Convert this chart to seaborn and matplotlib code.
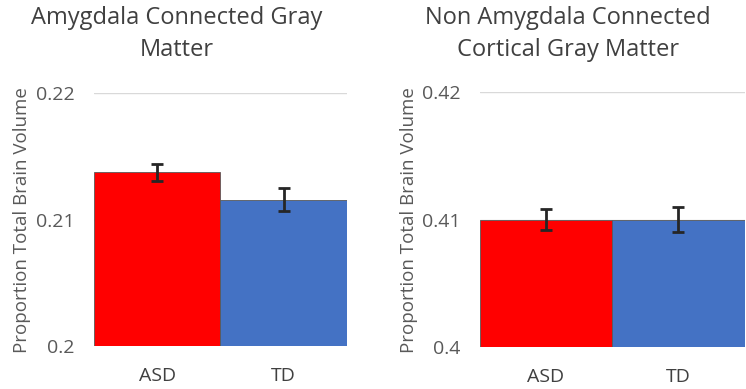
import matplotlib
matplotlib.use("Agg")
import matplotlib.pyplot as plt
import seaborn as sns
import pandas as pd

groups = ["ASD", "TD"]
amyg_means = [0.21375, 0.2116]
amyg_err = [0.0007, 0.0009]
non_amyg_means = [0.4100, 0.4100]
non_amyg_err = [0.0008, 0.0010]

panel_titles = ["Amygdala Connected Gray\nMatter", "Non Amygdala Connected\nCortical Gray Matter"]
y_limits = [(0.2, 0.22), (0.4, 0.42)]
y_ticks = [[0.2, 0.21, 0.22], [0.4, 0.41, 0.42]]
y_ticklabels = [["0.2", "0.21", "0.22"], ["0.4", "0.41", "0.42"]]
y_label = "Proportion Total Brain Volume"
bar_colors = ["#FF0000", "#4472C4"]

sns.set_theme(style="white")
plt.rcParams["font.family"] = ["Open Sans", "DejaVu Sans"]

fig = plt.figure(figsize=(7.46, 3.89), dpi=100)
axes = [fig.add_axes([0.126, 0.110, 0.339, 0.650]),
        fig.add_axes([0.643, 0.108, 0.355, 0.655])]
title_x = [0.237, 0.761]
ylabel_x = [31, 45]  # pixel offsets of the y-label anchor from each figure half

series = [(amyg_means, amyg_err), (non_amyg_means, non_amyg_err)]
text_col = "#595959"

for i, ax in enumerate(axes):
    means, errs = series[i]
    df = pd.DataFrame({"group": groups, "value": means})
    sns.barplot(data=df, x="group", y="value", hue="group", palette=bar_colors,
                width=1.0, errorbar=None, legend=False, ax=ax, saturation=1,
                edgecolor="#595959", linewidth=0.6, zorder=2)
    ax.errorbar(range(len(groups)), means, yerr=errs, fmt="none",
                ecolor="#262626", elinewidth=2, capsize=4, capthick=2, zorder=3)
    ax.set_ylim(*y_limits[i])
    ax.set_xlim(-0.5, 1.5)
    ax.set_yticks(y_ticks[i])
    ax.set_yticklabels(y_ticklabels[i])
    ax.yaxis.grid(True, color="#D9D9D9", linewidth=1)
    ax.set_axisbelow(True)
    for s in ["top", "right", "left", "bottom"]:
        ax.spines[s].set_visible(False)
    ax.tick_params(axis="y", length=0, pad=14, labelsize=14, labelcolor=text_col)
    ax.tick_params(axis="x", length=0, pad=15, labelsize=14, labelcolor="#404040")
    ax.set_xlabel("")
    ax.set_ylabel(y_label, fontsize=13.5, color=text_col)
    bbox = ax.get_position()
    x_px = ylabel_x[i] + (0 if i == 0 else 373)
    ax.yaxis.set_label_coords((x_px / 746 - bbox.x0) / bbox.width, 0.5)
    fig.text(title_x[i], 0.913, panel_titles[i], ha="center", va="center",
             fontsize=17, color="#404040", linespacing=1.45)

fig.savefig("out.png", dpi=100)
